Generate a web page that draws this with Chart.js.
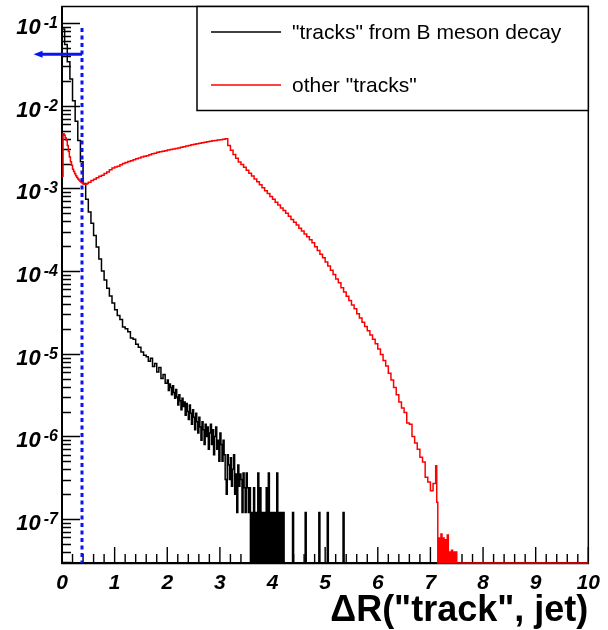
<!DOCTYPE html>
<html>
<head>
<meta charset="utf-8">
<script src="https://cdn.jsdelivr.net/npm/chart.js@4.4.1/dist/chart.umd.min.js"></script>
<style>
  html, body { margin: 0; padding: 0; background: #fff; }
  canvas { display: block; }
</style>
</head>
<body>
<canvas id="drChart" width="608" height="630"></canvas>
<script>
// axis ranges and decade labels
const xRange = [0, 10];
const yRange = [2.94e-8, 0.161];
const decadeExponents = [-1, -2, -3, -4, -5, -6, -7];

// "tracks" from B meson decay, read per bin: [start, bin width] then contents
const bHeadBins = [0, 0.05];
const bHead = [
    8.5e-2, 5.5e-2, 3.4e-2, 2.1e-2, 1.15e-2, 6.5e-3, 3.8e-3, 2.1e-3, 1.15e-3, 7.4e-4,
    5.2e-4, 3.8e-4, 2.7e-4, 1.95e-4, 1.4e-4, 1.0e-4, 7.8e-5, 6.2e-5, 5.0e-5, 4.1e-5,
    3.4e-5, 2.9e-5, 2.6e-5, 2.1e-5, 2.0e-5, 1.85e-5, 1.55e-5, 1.5e-5, 1.3e-5, 1.2e-5,
    1.05e-5, 9.6e-6
];
const bMidBins = [1.6, 0.04];
const bMid = [
    9.2e-6, 8.1e-6, 8.8e-6, 7.0e-6, 7.6e-6, 6.0e-6, 6.8e-6, 5.0e-6, 5.6e-6, 4.4e-6
];
const bNoiseBins = [2.0, 0.02];
const bNoise = [
    4.8e-6, 3.6e-6, 4.3e-6, 3.9e-6, 3.2e-6, 4.1e-6, 3.4e-6, 2.9e-6, 3.7e-6, 3.0e-6,
    2.4e-6, 3.2e-6, 2.7e-6, 2.1e-6, 2.9e-6, 2.3e-6, 2.6e-6, 1.8e-6, 2.5e-6, 2.0e-6,
    1.6e-6, 2.4e-6, 1.9e-6, 1.4e-6, 2.1e-6, 1.7e-6, 1.2e-6, 1.9e-6, 1.5e-6, 1.1e-6,
    1.7e-6, 1.3e-6, 0.9e-6, 1.5e-6, 1.2e-6, 0.8e-6, 1.4e-6, 1.0e-6, 1.3e-6, 0.7e-6,
    1.1e-6, 1.4e-6, 0.8e-6, 1.2e-6, 0.6e-6, 1.0e-6, 1.3e-6, 0.7e-6, 0.9e-6, 0.5e-6,
    1.1e-6, 0.8e-6, 0.5e-6, 0.9e-6, 0.6e-6, 0.3e-6, 0.2e-6, 0.6e-6, 0.45e-6, 0.3e-6,
    0.55e-6, 0.25e-6, 0.4e-6, 0.6e-6, 0.2e-6, 0.35e-6, 0.12e-6, 0.45e-6, 0.25e-6, 0.35e-6
];
const bTailBins = [3.4, 0.02];
const bTail = [
    3.0e-7, 1.2e-7, 3.6e-7, 2.4e-7, 1.2e-7, 3.6e-7, 2.4e-7, 1.2e-7, 2.4e-7, 0,
    1.2e-7, 0, 2.4e-7, 0, 1.2e-7, 0, 3.6e-7, 0, 2.4e-7, 0,
    1.2e-7, 0, 1.2e-7, 0, 2.4e-7, 0, 3.6e-7, 0, 1.2e-7, 0,
    1.2e-7, 0, 1.2e-7, 0, 3.6e-7, 0, 1.2e-7, 0, 1.2e-7, 0,
    1.2e-7, 0, 0, 0, 0
];
// isolated single-entry bins further out
const bSingleStarts = [4.38, 4.62, 4.88, 5.04, 5.34];
const bSingleBin = [0.02, 1.2e-7];

// other "tracks"
const rHeadBins = [0, 0.02];
const rHead = [
    1.4e-3, 4.6e-3, 4.4e-3, 4.1e-3, 3.8e-3, 3.3e-3, 2.8e-3, 2.4e-3, 2.1e-3, 1.9e-3,
    1.7e-3, 1.6e-3, 1.5e-3, 1.42e-3, 1.36e-3, 1.3e-3, 1.26e-3, 1.22e-3, 1.19e-3, 1.16e-3,
    1.14e-3, 1.12e-3, 1.12e-3, 1.13e-3, 1.15e-3
];
const rBodyBins = [0.5, 0.05];
const rBody = [
    1.19e-3, 1.245e-3, 1.29e-3, 1.35e-3, 1.40e-3, 1.445e-3, 1.51e-3, 1.58e-3, 1.68e-3, 1.76e-3,
    1.82e-3, 1.86e-3, 1.93e-3, 2.0e-3, 2.06e-3, 2.11e-3, 2.16e-3, 2.22e-3, 2.29e-3, 2.34e-3,
    2.40e-3, 2.45e-3, 2.49e-3, 2.56e-3, 2.62e-3, 2.67e-3, 2.73e-3, 2.78e-3, 2.82e-3, 2.86e-3,
    2.91e-3, 2.95e-3, 3.0e-3, 3.04e-3, 3.09e-3, 3.15e-3, 3.2e-3, 3.25e-3, 3.31e-3, 3.37e-3,
    3.42e-3, 3.47e-3, 3.52e-3, 3.56e-3, 3.62e-3, 3.67e-3, 3.72e-3, 3.76e-3, 3.8e-3, 3.85e-3,
    3.89e-3, 3.93e-3, 3.98e-3, 3.3e-3, 2.9e-3, 2.57e-3, 2.32e-3, 2.09e-3, 1.95e-3, 1.8e-3,
    1.66e-3, 1.53e-3, 1.41e-3, 1.30e-3, 1.2e-3, 1.11e-3, 1.02e-3, 9.4e-4, 8.7e-4, 8.0e-4,
    7.4e-4, 6.8e-4, 6.3e-4, 5.8e-4, 5.4e-4, 5.0e-4, 4.6e-4, 4.2e-4, 3.9e-4, 3.6e-4,
    3.3e-4, 3.05e-4, 2.8e-4, 2.6e-4, 2.4e-4, 2.2e-4, 1.97e-4, 1.78e-4, 1.6e-4, 1.45e-4,
    1.29e-4, 1.15e-4, 1.02e-4, 9.1e-5, 8.0e-5, 7.2e-5, 6.3e-5, 5.6e-5, 4.95e-5, 4.4e-5,
    3.9e-5, 3.5e-5, 3.05e-5, 2.7e-5, 2.4e-5, 2.14e-5, 1.9e-5, 1.68e-5, 1.5e-5, 1.32e-5,
    1.14e-5, 9.8e-6, 8.3e-6, 7.1e-6, 5.8e-6, 4.8e-6, 3.9e-6, 3.2e-6, 2.6e-6, 2.2e-6,
    1.95e-6, 1.45e-6, 1.4e-6, 1.0e-6, 8.3e-7, 7.0e-7, 5.6e-7, 4.9e-7, 3.2e-7, 2.8e-7,
    2.2e-7, 2.7e-7
];
const rTailBins = [7.1, 0.02];
const rTail = [
    4.4e-7, 1.6e-7, 0, 5.9e-8, 0, 6.6e-8, 0, 5.9e-8, 0, 5.6e-8,
    0, 6.4e-8, 0, 4.0e-8, 0, 4.2e-8, 0, 4.0e-8, 0, 4.0e-8
];

// cut marker and arrow
const cutX = 0.38;
const cutTop = 0.087;
const arrowY = 0.042;
const arrowTipX = -0.54;

function bins(spec, values) {
    return values.map(function (v, i) {
        return {lo: spec[0] + i * spec[1], hi: spec[0] + (i + 1) * spec[1], v: v};
    });
}

// histogram bins -> step points, empty bins sit on the axis floor
function steps(list) {
    const floor = yRange[0];
    const pts = [];
    let last = xRange[0];
    list.forEach(function (b) {
        if (pts.length && b.lo - last > 1e-9) pts.push({x: last, y: floor});
        pts.push({x: b.lo, y: b.v > 0 ? b.v : floor});
        last = b.hi;
    });
    pts.push({x: last, y: floor});
    pts.push({x: xRange[1], y: floor});
    return pts;
}

const bSingles = bSingleStarts.map(function (s) {
    return {lo: s, hi: s + bSingleBin[0], v: bSingleBin[1]};
});
const blackPts = steps([].concat(
    bins(bHeadBins, bHead), bins(bMidBins, bMid), bins(bNoiseBins, bNoise),
    bins(bTailBins, bTail), bSingles));
const redPts = steps([].concat(bins(rHeadBins, rHead), bins(rBodyBins, rBody), bins(rTailBins, rTail)));

const FONT = '"Liberation Sans", Arial, Helvetica, sans-serif';
const BLUE = '#0a14f0';

const rootStyle = {
    id: 'rootStyle',
    beforeDatasetsDraw(chart) {
        const ctx = chart.ctx, a = chart.chartArea, x = chart.scales.x, y = chart.scales.y;
        ctx.save();
        ctx.strokeStyle = '#000';
        ctx.lineWidth = 1.4;
        ctx.beginPath();
        // x ticks: major at integers, minor every 0.2
        for (let i = 0; i <= 50; i++) {
            const px = x.getPixelForValue(i * 0.2);
            ctx.moveTo(px, a.bottom);
            ctx.lineTo(px, a.bottom - (i % 5 === 0 ? 16 : 9));
        }
        // log y ticks
        for (let e = -8; e <= 0; e++) {
            for (let k = 1; k <= 9; k++) {
                const v = k * Math.pow(10, e);
                if (v < yRange[0] || v > yRange[1]) continue;
                const py = Math.round(y.getPixelForValue(v)) + 0.5;
                ctx.moveTo(a.left, py);
                ctx.lineTo(a.left + (k === 1 ? 18 : 9), py);
            }
        }
        ctx.stroke();
        // frame
        ctx.lineWidth = 1.5;
        ctx.strokeRect(a.left, a.top + 0.5, a.right - a.left, a.bottom - a.top);
        ctx.lineWidth = 2;
        ctx.beginPath();
        ctx.moveTo(a.left, a.top);
        ctx.lineTo(a.left, a.bottom);
        ctx.lineTo(a.right, a.bottom);
        ctx.stroke();
        ctx.restore();
    },
    afterDraw(chart) {
        const ctx = chart.ctx, a = chart.chartArea, x = chart.scales.x, y = chart.scales.y;
        ctx.save();
        // arrow head
        const tx = x.getPixelForValue(arrowTipX), ty = y.getPixelForValue(arrowY);
        ctx.fillStyle = BLUE;
        ctx.beginPath();
        ctx.moveTo(tx, ty);
        ctx.lineTo(tx + 9, ty - 3.5);
        ctx.lineTo(tx + 9, ty + 3.5);
        ctx.closePath();
        ctx.fill();
        // y labels 10^n
        ctx.fillStyle = '#000';
        ctx.textAlign = 'right';
        ctx.textBaseline = 'alphabetic';
        decadeExponents.forEach(function (e) {
            const py = y.getPixelForValue(Math.pow(10, e));
            const sup = String(e);
            ctx.font = 'italic bold 16px ' + FONT;
            const sw = ctx.measureText(sup).width;
            ctx.fillText(sup, 58, py + 5);
            ctx.font = 'italic bold 22px ' + FONT;
            ctx.fillText('10', 58 - sw - 3, py + 11);
        });
        // legend box
        ctx.fillStyle = '#fff';
        ctx.fillRect(197, 6, a.right - 197, 104);
        ctx.strokeStyle = '#000';
        ctx.lineWidth = 1.5;
        ctx.strokeRect(197, 6.5, a.right - 197, 104);
        ctx.textAlign = 'left';
        ctx.textBaseline = 'middle';
        ctx.font = '21px ' + FONT;
        [0, 1].forEach(function (i) {
            const ds = chart.data.datasets[i];
            const ly = 32 + i * 53;
            ctx.strokeStyle = ds.borderColor;
            ctx.lineWidth = 1.5;
            ctx.beginPath();
            ctx.moveTo(211, ly);
            ctx.lineTo(281, ly);
            ctx.stroke();
            ctx.fillStyle = '#000';
            ctx.fillText(ds.label, 292, ly + 1);
        });
        ctx.restore();
    }
};

new Chart(document.getElementById('drChart'), {
    type: 'line',
    data: {
        datasets: [{
                label: '"tracks" from B meson decay',
                data: blackPts,
                borderColor: '#000000',
                borderWidth: 1.5,
                stepped: true,
                pointRadius: 0,
                fill: false,
                clip: 2,
                order: 2
            }, {
                label: 'other "tracks"',
                data: redPts,
                borderColor: '#ff0000',
                borderWidth: 1.5,
                stepped: true,
                pointRadius: 0,
                fill: false,
                clip: 2,
                order: 1
            }, {
                label: 'cut',
                data: [{x: cutX, y: cutTop}, {x: cutX, y: yRange[0]}],
                borderColor: BLUE,
                borderWidth: 3,
                borderDash: [4, 3.5],
                pointRadius: 0,
                fill: false,
                order: 0
            }, {
                label: 'arrow',
                data: [{x: cutX, y: arrowY}, {x: arrowTipX + 0.1, y: arrowY}],
                borderColor: BLUE,
                borderWidth: 3,
                pointRadius: 0,
                fill: false,
                clip: false,
                order: 0
            }]
    },
    options: {
        responsive: false,
        animation: false,
        devicePixelRatio: 1,
        events: [],
        layout: {padding: {top: 6, right: 12, left: 0, bottom: 0}},
        scales: {
            x: {
                type: 'linear',
                min: xRange[0],
                max: xRange[1],
                grid: {display: false, drawTicks: false},
                border: {display: false},
                ticks: {
                    stepSize: 1,
                    maxRotation: 0,
                    autoSkip: false,
                    padding: 8,
                    color: '#000',
                    font: {family: FONT, size: 21, style: 'italic', weight: 'bold'}
                },
                title: {
                    display: true,
                    text: 'ΔR("track", jet)',
                    align: 'end',
                    color: '#000',
                    padding: {top: 0, bottom: 1},
                    font: {family: FONT, size: 36, weight: 'bold', lineHeight: 1.0}
                },
                afterFit: function (scale) { scale.height = 67; }
            },
            y: {
                type: 'logarithmic',
                min: yRange[0],
                max: yRange[1],
                grid: {display: false, drawTicks: false},
                border: {display: false},
                ticks: {display: false},
                afterFit: function (scale) { scale.width = 62; }
            }
        },
        plugins: {
            legend: {display: false},
            tooltip: {enabled: false}
        }
    },
    plugins: [rootStyle]
});
</script>
</body>
</html>
